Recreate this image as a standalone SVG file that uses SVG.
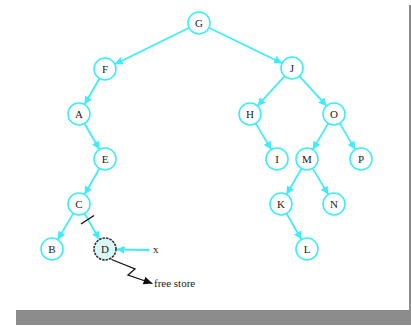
<svg xmlns="http://www.w3.org/2000/svg" width="411" height="326" viewBox="0 0 411 326">
<defs>
<style>
.n circle{fill:#fff;stroke:#3eecfa;stroke-width:1.6}
.n text{font-family:"Liberation Serif",serif;font-size:11px;fill:#222;text-anchor:middle}
.e line{stroke:#3eecfa;stroke-width:1.8;marker-end:url(#a)}
</style>
<marker id="a" markerUnits="userSpaceOnUse" markerWidth="9" markerHeight="8" refX="8" refY="4" orient="auto"><path d="M0,0 L8,4 L0,8 Z" fill="#3eecfa"/></marker>
<marker id="b" markerUnits="userSpaceOnUse" markerWidth="10" markerHeight="8" refX="9" refY="4" orient="auto"><path d="M0,0 L9,4 L0,8 Z" fill="#111"/></marker>
</defs>
<rect width="411" height="326" fill="#fff"/>
<rect x="16" y="310" width="395" height="15" fill="#8c8c8c"/>
<rect x="409" y="5" width="2" height="305" fill="#8c8c8c"/>
<g id="connectors" class="e">
<line x1="189.1" y1="27.8" x2="114.9" y2="64.2"/>
<line x1="208.9" y1="27.8" x2="282.1" y2="63.2"/>
<line x1="99.5" y1="78.5" x2="84.5" y2="104.5"/>
<line x1="84.5" y1="123.5" x2="99.5" y2="149.5"/>
<line x1="99.5" y1="168.5" x2="84.5" y2="194.5"/>
<line x1="73.3" y1="213.4" x2="57.7" y2="239.6"/>
<line x1="84.5" y1="213.5" x2="99.5" y2="239.5"/>
<line x1="284.6" y1="76.1" x2="257.4" y2="105.9"/>
<line x1="299.4" y1="76.1" x2="326.6" y2="105.9"/>
<line x1="255.7" y1="123.4" x2="271.3" y2="149.6"/>
<line x1="328.3" y1="123.4" x2="312.7" y2="149.6"/>
<line x1="339.7" y1="123.4" x2="355.3" y2="149.6"/>
<line x1="301.5" y1="168.5" x2="286.5" y2="194.5"/>
<line x1="312.7" y1="168.4" x2="328.3" y2="194.6"/>
<line x1="286.5" y1="213.5" x2="301.5" y2="239.5"/>
<line x1="148" y1="250" x2="116.5" y2="249.5"/>
<circle cx="148" cy="250" r="1.6" fill="#3eecfa"/>
<path d="M81,224 L94,215.5" stroke="#111" stroke-width="1.4" fill="none"/>
<path d="M111.5,259.5 L135,269 L128,275 L152.5,283.5" stroke="#111" stroke-width="1.3" fill="none" marker-end="url(#b)"/>
</g>
<g id="G" class="n"><circle cx="199" cy="23" r="11"/><text x="199" y="27">G</text></g>
<g id="F" class="n"><circle cx="105" cy="69" r="11"/><text x="105" y="73">F</text></g>
<g id="J" class="n"><circle cx="292" cy="68" r="11"/><text x="292" y="72">J</text></g>
<g id="A" class="n"><circle cx="79" cy="114" r="11"/><text x="79" y="118">A</text></g>
<g id="H" class="n"><circle cx="250" cy="114" r="11"/><text x="250" y="118">H</text></g>
<g id="O" class="n"><circle cx="334" cy="114" r="11"/><text x="334" y="118">O</text></g>
<g id="E" class="n"><circle cx="105" cy="159" r="11"/><text x="105" y="163">E</text></g>
<g id="I" class="n"><circle cx="277" cy="159" r="11"/><text x="277" y="163">I</text></g>
<g id="M" class="n"><circle cx="307" cy="159" r="11"/><text x="307" y="163">M</text></g>
<g id="P" class="n"><circle cx="361" cy="159" r="11"/><text x="361" y="163">P</text></g>
<g id="C" class="n"><circle cx="79" cy="204" r="11"/><text x="79" y="208">C</text></g>
<g id="K" class="n"><circle cx="281" cy="204" r="11"/><text x="281" y="208">K</text></g>
<g id="N" class="n"><circle cx="334" cy="204" r="11"/><text x="334" y="208">N</text></g>
<g id="B" class="n"><circle cx="52" cy="249" r="11"/><text x="52" y="253">B</text></g>
<g id="D" class="n"><circle cx="105" cy="249" r="11" style="fill:#d8f7f7;stroke:#333;stroke-dasharray:2.5,1"/><text x="105" y="253">D</text></g>
<g id="L" class="n"><circle cx="307" cy="249" r="11"/><text x="307" y="253">L</text></g>
<g id="labels" font-family="'Liberation Serif',serif" font-size="11" fill="#222">
<text x="153" y="253">x</text>
<text x="154" y="287">free store</text>
</g>
</svg>
